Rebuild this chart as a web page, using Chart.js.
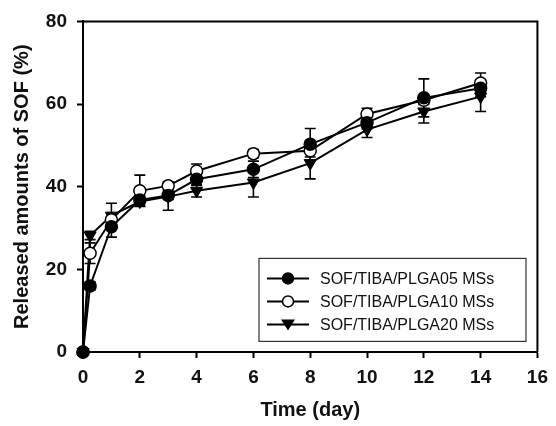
<!DOCTYPE html>
<html>
<head>
<meta charset="utf-8">
<script src="https://cdn.jsdelivr.net/npm/chart.js@4/dist/chart.umd.min.js"></script>
<style>
  html, body { margin: 0; padding: 0; background: #fff; }
  #wrap { width: 556px; height: 426px; }
</style>
</head>
<body>
<div id="wrap"><canvas id="chart" width="556" height="426"></canvas></div>
<script>
// Tempo (dias) e liberação acumulada de SOF (%)
const time = [0, 0.25, 1, 2, 3, 4, 6, 8, 10, 12, 14];
const plga05 = [0, 16, 30.3, 36.8, 37.9, 41.8, 44.2, 50.3, 55.5, 61.5, 63.8];
const plga10 = [0, 23.9, 32, 39, 40.2, 43.8, 48, 48.7, 57.6, 60.9, 65.1];
const plga20 = [0, 28.2, 33, 36.4, 37.6, 39, 41, 45.7, 53.8, 58.2, 61.8];

// Desvios (barras de erro)
const err05 = [0, 1, 2.5, 1, 1, 1.5, 2, 3.8, 1.5, 4.6, 2];
const err10 = [0, 2.5, 1.5, 3.8, 1, 1.7, 1, 1.5, 1.4, 1, 2.4];
const err20 = [0, 1, 3, 1, 3.3, 1.5, 3.5, 3.8, 1.9, 2.8, 3.6];

const seriesNames = ['SOF/TIBA/PLGA05 MSs', 'SOF/TIBA/PLGA10 MSs', 'SOF/TIBA/PLGA20 MSs'];
const xTicks = [0, 2, 4, 6, 8, 10, 12, 14, 16];
const yTicks = [0, 20, 40, 60, 80];

const errorSets = [err05, err10, err20];
const FONT = '"Liberation Sans", Arial, sans-serif';

const toPoints = (vals) => vals.map((v, i) => ({ x: time[i], y: v }));

// Barras de erro desenhadas antes dos marcadores
const errorBars = {
    id: 'errorBars',
    beforeDatasetsDraw(chart) {
        const { ctx, scales: { x, y } } = chart;
        ctx.save();
        ctx.strokeStyle = '#000';
        ctx.lineWidth = 1.6;
        chart.data.datasets.forEach((ds, i) => {
            const errs = errorSets[i];
            ds.data.forEach((p, j) => {
                const e = errs[j];
                if (!e) return;
                const px = x.getPixelForValue(p.x);
                const top = y.getPixelForValue(p.y + e);
                const bot = y.getPixelForValue(p.y - e);
                ctx.beginPath();
                ctx.moveTo(px, top); ctx.lineTo(px, bot);
                ctx.moveTo(px - 5.5, top); ctx.lineTo(px + 5.5, top);
                ctx.moveTo(px - 5.5, bot); ctx.lineTo(px + 5.5, bot);
                ctx.stroke();
            });
        });
        ctx.restore();
    }
};

// Moldura (lados de cima e direita) e legenda dentro do gráfico
const frameAndLegend = {
    id: 'frameAndLegend',
    beforeDatasetsDraw(chart) {
        const { ctx, chartArea: a } = chart;
        ctx.save();
        ctx.strokeStyle = '#000';
        ctx.lineWidth = 2;
        ctx.beginPath();
        ctx.moveTo(a.left, a.top); ctx.lineTo(a.right, a.top); ctx.lineTo(a.right, a.bottom);
        ctx.stroke();
        ctx.restore();
    },
    afterDraw(chart) {
        const { ctx, chartArea: a } = chart;
        const bx = a.left + 176, by = a.top + 237, bw = 267, bh = 83;
        ctx.save();
        ctx.fillStyle = '#fff';
        ctx.fillRect(bx, by, bw, bh);
        ctx.strokeStyle = '#333';
        ctx.lineWidth = 1.2;
        ctx.strokeRect(bx, by, bw, bh);
        ctx.font = '16px ' + FONT;
        ctx.textBaseline = 'middle';
        chart.data.datasets.forEach((ds, i) => {
            const ry = by + 20 + i * 23;
            ctx.strokeStyle = '#000';
            ctx.lineWidth = 2;
            ctx.beginPath();
            ctx.moveTo(bx + 8, ry); ctx.lineTo(bx + 50, ry);
            ctx.stroke();
            ctx.fillStyle = ds.pointBackgroundColor;
            ctx.lineWidth = 1.5;
            if (ds.pointStyle === 'triangle') {
                ctx.beginPath();
                ctx.moveTo(bx + 22, ry - 5); ctx.lineTo(bx + 36, ry - 5); ctx.lineTo(bx + 29, ry + 6);
                ctx.closePath();
                ctx.fillStyle = '#000';
                ctx.fill();
            } else {
                ctx.beginPath();
                ctx.arc(bx + 29, ry, 5.5, 0, Math.PI * 2);
                ctx.fill();
                ctx.stroke();
            }
            ctx.fillStyle = '#111';
            ctx.fillText(seriesNames[i], bx + 61, ry + 1);
        });
        ctx.restore();
    }
};

const ctx = document.getElementById('chart').getContext('2d');
new Chart(ctx, {
    type: 'line',
    data: {
        datasets: [
            {
                label: seriesNames[0],
                data: toPoints(plga05),
                borderColor: '#000', borderWidth: 2, clip: false,
                pointStyle: 'circle', pointRadius: 6,
                pointBackgroundColor: '#000', pointBorderColor: '#000', pointBorderWidth: 1.5
            },
            {
                label: seriesNames[1],
                data: toPoints(plga10),
                borderColor: '#000', borderWidth: 2, clip: false,
                pointStyle: 'circle', pointRadius: 6,
                pointBackgroundColor: '#fff', pointBorderColor: '#000', pointBorderWidth: 1.5
            },
            {
                label: seriesNames[2],
                data: toPoints(plga20),
                borderColor: '#000', borderWidth: 2, clip: false,
                pointStyle: 'triangle', pointRotation: 180, pointRadius: 7,
                pointBackgroundColor: '#000', pointBorderColor: '#000', pointBorderWidth: 1
            }
        ]
    },
    options: {
        responsive: false,
        animation: false,
        events: [],
        layout: { padding: { top: 20, right: 13, left: 0, bottom: 0 } },
        plugins: {
            legend: { display: false },
            tooltip: { enabled: false }
        },
        scales: {
            x: {
                type: 'linear',
                min: 0, max: 16,
                afterBuildTicks: (s) => { s.ticks = xTicks.map(v => ({ value: v })); },
                afterFit: (s) => { s.height = 74; },
                grid: { drawOnChartArea: false, drawTicks: true, tickLength: 6, tickWidth: 2, tickColor: '#000' },
                border: { color: '#000', width: 2 },
                ticks: { color: '#111', font: { family: FONT, size: 19, weight: 'bold' }, padding: 8, maxRotation: 0 },
                title: { display: true, text: 'Time (day)', color: '#111', font: { family: FONT, size: 20, weight: 'bold' }, padding: { top: 12 } }
            },
            y: {
                min: 0, max: 80,
                afterBuildTicks: (s) => { s.ticks = yTicks.map(v => ({ value: v })); },
                afterFit: (s) => { s.width = 83; },
                grid: { drawOnChartArea: false, drawTicks: true, tickLength: 6, tickWidth: 2, tickColor: '#000' },
                border: { color: '#000', width: 2 },
                ticks: { color: '#111', font: { family: FONT, size: 19, weight: 'bold' }, padding: 10 },
                title: { display: true, text: 'Released amounts of SOF (%)', color: '#111', font: { family: FONT, size: 20, weight: 'bold' }, padding: { top: 10, bottom: 0 } }
            }
        }
    },
    plugins: [errorBars, frameAndLegend]
});
</script>
</body>
</html>
